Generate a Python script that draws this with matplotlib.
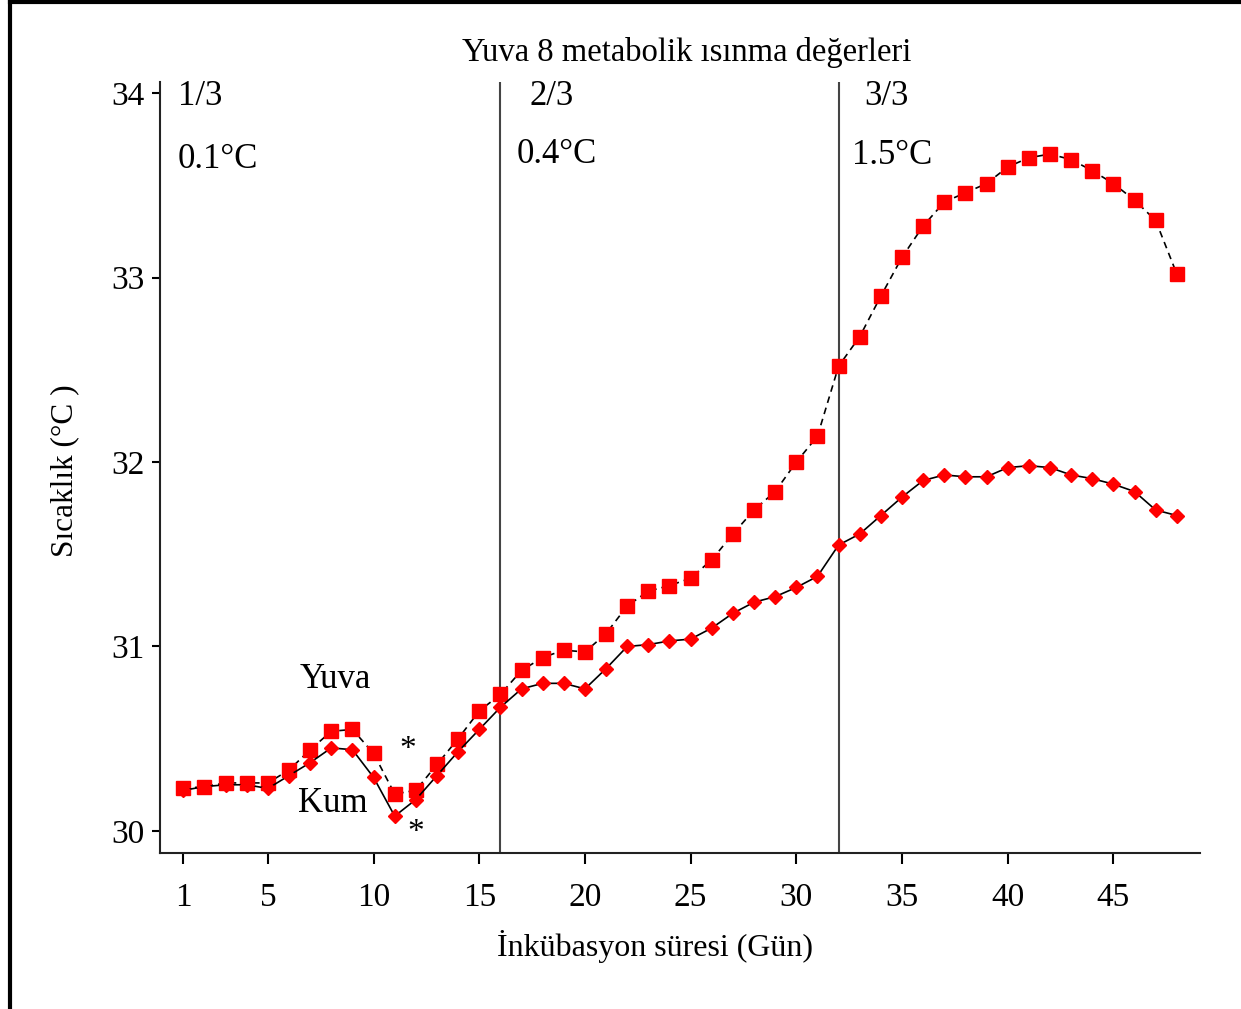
import matplotlib
matplotlib.use("Agg")
import matplotlib.pyplot as plt
from matplotlib.lines import Line2D

plt.rcParams['font.family'] = ['Liberation Serif', 'DejaVu Serif']

days = list(range(1, 49))
yuva = [30.23, 30.24, 30.26, 30.26, 30.26, 30.33, 30.44, 30.54, 30.55, 30.42,
        30.20, 30.22, 30.36, 30.50, 30.65, 30.74, 30.87, 30.94, 30.98, 30.97,
        31.07, 31.22, 31.30, 31.33, 31.37, 31.47, 31.61, 31.74, 31.84, 32.00,
        32.14, 32.52, 32.68, 32.90, 33.11, 33.28, 33.41, 33.46, 33.51, 33.60,
        33.65, 33.67, 33.64, 33.58, 33.51, 33.42, 33.31, 33.02]
kum = [30.22, 30.24, 30.25, 30.25, 30.23, 30.30, 30.37, 30.45, 30.44, 30.29,
       30.08, 30.17, 30.30, 30.43, 30.55, 30.67, 30.77, 30.80, 30.80, 30.77,
       30.88, 31.00, 31.01, 31.03, 31.04, 31.10, 31.18, 31.24, 31.27, 31.32,
       31.38, 31.55, 31.61, 31.71, 31.81, 31.90, 31.93, 31.92, 31.92, 31.97,
       31.98, 31.97, 31.93, 31.91, 31.88, 31.84, 31.74, 31.71]

xticks = [1, 5, 10, 15, 20, 25, 30, 35, 40, 45]
yticks = [30, 31, 32, 33, 34]
phase_lines = [16, 32]
phase_labels = ["1/3", "2/3", "3/3"]
phase_temps = ["0.1°C", "0.4°C", "1.5°C"]

fig = plt.figure(figsize=(12.41, 10.09), dpi=100)
ax = fig.add_axes([0.129, 0.1546, 0.838, 0.764])

ax.plot(days, yuva, color='black', lw=1.2, ls=(0, (4, 3)), marker='s',
        markersize=9.5, markerfacecolor='red', markeredgecolor='red', zorder=3)
ax.plot(days, kum, color='black', lw=1.2, ls='-', marker='D',
        markersize=7.5, markerfacecolor='red', markeredgecolor='red', zorder=3)

for xv in phase_lines:
    ax.axvline(xv, color='#444444', lw=1.5, zorder=1)

ax.set_xlim(-0.1, 49.1)
ax.set_ylim(29.88, 34.06)
ax.set_xticks(xticks)
ax.set_yticks(yticks)
ax.tick_params(axis='x', direction='out', length=8, width=1.5, pad=13, labelsize=24)
ax.tick_params(axis='y', direction='out', length=6, width=1.5, pad=5, labelsize=24)
for s in ['top', 'right']:
    ax.spines[s].set_visible(False)
for s in ['left', 'bottom']:
    ax.spines[s].set_linewidth(1.5)
    ax.spines[s].set_color('#222222')

fs = 25
ax.text(0.73, 33.98, phase_labels[0], fontsize=fs, ha='left', va='center')
ax.text(0.73, 33.64, phase_temps[0], fontsize=fs, ha='left', va='center')
ax.text(17.39, 33.98, phase_labels[1], fontsize=fs, ha='left', va='center')
ax.text(16.77, 33.67, phase_temps[1], fontsize=fs, ha='left', va='center')
ax.text(33.2, 33.98, phase_labels[2], fontsize=fs, ha='left', va='center')
ax.text(32.63, 33.66, phase_temps[2], fontsize=fs, ha='left', va='center')
ax.text(8.17, 30.82, "Yuva", fontsize=fs, ha='center', va='center')
ax.text(8.07, 30.15, "Kum", fontsize=fs, ha='center', va='center')
ax.text(11.62, 30.44, "*", fontsize=24, ha='center', va='center')
ax.text(12.0, 29.99, "*", fontsize=24, ha='center', va='center')

fig.text(0.553, 0.9475, "Yuva 8 metabolik ısınma değerleri", fontsize=23.5,
         ha='center', va='center')
fig.text(0.528, 0.0624, "İnkübasyon süresi (Gün)", fontsize=23,
         ha='center', va='center')
fig.text(0.052, 0.534, "Sıcaklık (°C )", fontsize=22.5, rotation=90,
         ha='center', va='center')

# outer frame (top and left edges)
fig.add_artist(Line2D([0.008, 1.0], [0.998, 0.998], transform=fig.transFigure,
                      color='black', lw=3))
fig.add_artist(Line2D([0.008, 0.008], [0.0, 0.998], transform=fig.transFigure,
                      color='black', lw=3))

fig.savefig("out.png", dpi=100)
